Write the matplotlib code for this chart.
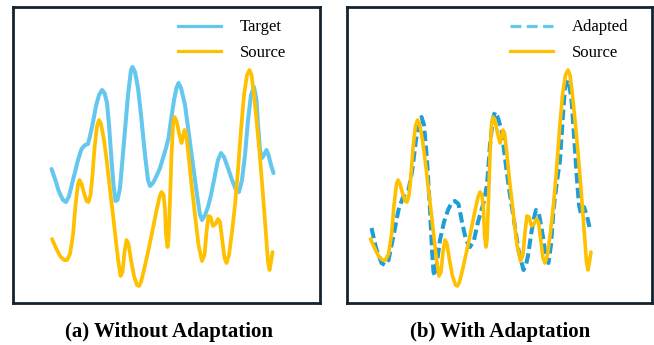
import matplotlib
matplotlib.use('Agg')
import matplotlib.pyplot as plt
from matplotlib.lines import Line2D

plt.rcParams['font.family'] = ['Liberation Serif', 'DejaVu Serif']

# signals (t = time step, v = amplitude)
target_t = [-0.5, 2, 4, 6, 8, 11, 14, 17, 20, 23, 26, 29.5, 33, 36, 38, 41, 44, 47, 50, 52.5,
            55, 57, 59.5, 61.5, 63.5, 65.5, 68, 70, 73, 76, 79, 80.5, 83, 86, 89, 93, 96, 98,
            101, 104.5, 108, 111, 114, 116.5, 119, 122, 124.5, 126.5, 129, 133, 137, 141, 145,
            148, 150, 153, 156, 159, 163, 166, 169, 172, 176, 180, 184, 187, 190, 193, 196, 199,
            202, 204.5, 206, 208, 210, 212, 214.5, 216.5, 219, 221.5]
target_v = [131, 124, 118, 111, 106, 100, 98, 104, 116, 128, 140, 151, 155, 156, 164, 178, 194,
            205, 210, 207, 197, 175, 140, 115, 99, 100, 112, 135, 170, 205, 230, 233, 228, 212,
            185, 145, 120, 114, 117, 124, 132, 142, 152, 162, 180, 200, 212, 217, 212, 195, 165,
            135, 105, 85, 80, 85, 93, 105, 125, 140, 147, 143, 132, 120, 110, 108, 120, 145, 180,
            205, 213, 200, 175, 150, 142, 145, 150, 145, 135, 127]

source_t = [0, 4, 8, 12, 15, 18, 21, 23.5, 26, 27.5, 29.5, 32, 34.5, 36.5, 38.5, 40.5, 42.5, 45,
            47, 49, 52, 55, 58, 61, 64, 66.5, 68.5, 70.5, 72.5, 74.5, 76.5, 79, 82, 85, 87, 89,
            92, 96, 100, 104, 107.5, 109.5, 111.5, 113, 114, 115.5, 116.5, 118, 119.5, 121, 122.5,
            124.5, 127, 129.5, 131, 132.5, 134, 136, 139, 143, 146.5, 150, 152.5, 154.5, 156.5,
            158.5, 161, 163.5, 166, 168, 170, 172.5, 174.5, 177, 180, 183, 186, 189, 192, 195,
            197.5, 199.5, 202, 205, 208, 211, 214, 216, 217.5, 219, 220.5]
source_v = [61, 52, 44, 40, 40, 46, 65, 95, 116, 120, 116, 107, 99, 98, 105, 125, 152, 174, 180,
            176, 160, 137, 110, 85, 58, 37, 24, 28, 48, 60, 56, 40, 24, 15, 14, 18, 30, 48, 67, 87,
            103, 108, 105, 90, 65, 53, 60, 100, 145, 175, 183, 179, 167, 157, 163, 170, 167, 150,
            120, 85, 55, 39, 45, 68, 84, 83, 74, 76, 81, 78, 62, 42, 37, 45, 68, 95, 130, 170, 205,
            225, 230, 225, 205, 175, 142, 105, 65, 38, 30, 38, 48]

adapted_t = [1, 5.5, 11, 14.5, 18, 22.5, 28, 32.5, 38, 41.5, 45.5, 48.5, 51, 53.5, 56.5, 59.5,
             61.5, 63, 64.5, 66.5, 69.5, 73.5, 77.5, 81.5, 84.5, 88, 91.5, 95.5, 99.5, 103.5, 107.5,
             113, 116.5, 119.5, 122.5, 124.5, 127.5, 131, 136, 139.5, 143, 148, 153, 155.5, 158,
             160.5, 163, 165.5, 168.5, 170.5, 173, 175.5, 178, 180.5, 183, 186, 189.5, 192.5,
             194.5, 197, 199, 201, 203.5, 206, 208.5, 210.5, 213.5, 216.5, 219]
adapted_v = [72, 52, 37, 35, 40, 62, 90, 103, 110, 128, 160, 176, 183, 175, 140, 90, 50, 28, 24,
             38, 60, 78, 90, 98, 99, 96, 78, 60, 53, 60, 78, 97, 115, 155, 182, 188, 182, 170, 130,
             105, 83, 50, 30, 35, 47, 65, 80, 90, 86, 75, 60, 42, 37, 55, 90, 115, 140, 185, 212,
             220, 214, 200, 165, 127, 95, 86, 93, 84, 73]

captions = ['(a) Without Adaptation', '(b) With Adaptation']

c_target = '#63C7EE'
c_source = '#FFC000'
c_adapted = '#1E9DD6'
c_frame = '#14242E'

fig = plt.figure(figsize=(6.54, 3.45), dpi=100)
ax1 = fig.add_axes([0.0199, 0.1217, 0.4694, 0.858])
ax2 = fig.add_axes([0.5306, 0.1217, 0.4663, 0.858])

ax1.plot(target_t, target_v, color=c_target, lw=2.9, solid_capstyle='round', solid_joinstyle='round')
ax1.plot(source_t, source_v, color=c_source, lw=2.7, solid_capstyle='round', solid_joinstyle='round')

ax2.plot(adapted_t, adapted_v, color=c_adapted, lw=2.9, dashes=(2.6, 1.1), dash_capstyle='butt')
ax2.plot(source_t, source_v, color=c_source, lw=2.6, solid_capstyle='round', solid_joinstyle='round')

ax1.set_xlim(-39, 268)
ax2.set_xlim(-23.5, 281.5)

font = {'family': 'Liberation Serif', 'size': 12}
h1 = [Line2D([], [], color=c_target, lw=2.3), Line2D([], [], color=c_source, lw=2.3)]
h2 = [Line2D([], [], color=c_target, lw=2.3, dashes=(3.4, 1.7)), Line2D([], [], color=c_source, lw=2.3)]

for ax, hs, labels, bx in [(ax1, h1, ['Target', 'Source'], 0.537),
                           (ax2, h2, ['Adapted', 'Source'], 0.534)]:
    ax.set_ylim(-3, 293)
    ax.set_xticks([])
    ax.set_yticks([])
    for s in ax.spines.values():
        s.set_color(c_frame)
        s.set_linewidth(2.0)
    ax.legend(hs, labels, loc='upper left', bbox_to_anchor=(bx, 0.958), frameon=False,
              borderpad=0, borderaxespad=0, handlelength=2.6, handletextpad=1.1,
              labelspacing=0.55, prop=font)

fig.text(0.2584, 0.024, captions[0], ha='center', va='baseline', fontsize=15, fontweight='bold')
fig.text(0.7645, 0.024, captions[1], ha='center', va='baseline', fontsize=15, fontweight='bold')

fig.savefig('out.png', dpi=100)
